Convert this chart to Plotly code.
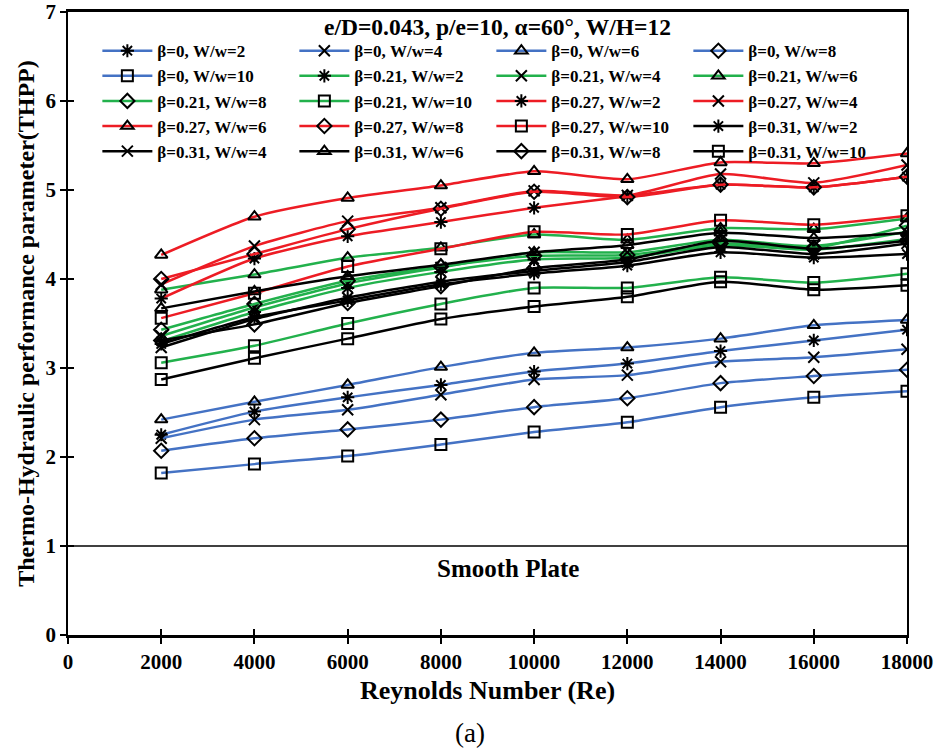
import plotly.graph_objects as go

# Reynolds numbers tested
reynolds = [2000, 4000, 6000, 8000, 10000, 12000, 14000, 16000, 18000]

# Blockage ratio values and their line colours
betas = ["0", "0.21", "0.27", "0.31"]
beta_colors = ["#4472C4", "#22B14C", "#ED1C24", "#000000"]

# Relative width ratios and their marker symbols
width_ratios = [2, 4, 6, 8, 10]
ratio_symbols = ["asterisk-open", "x-thin-open", "triangle-up-open", "diamond-open", "square-open"]

# THPP values, beta = 0
thpp_b0_w2 = [2.25, 2.51, 2.67, 2.81, 2.96, 3.05, 3.19, 3.31, 3.43]
thpp_b0_w4 = [2.21, 2.42, 2.53, 2.70, 2.87, 2.92, 3.07, 3.12, 3.21]
thpp_b0_w6 = [2.42, 2.62, 2.81, 3.01, 3.17, 3.23, 3.33, 3.48, 3.54]
thpp_b0_w8 = [2.07, 2.21, 2.31, 2.42, 2.56, 2.66, 2.83, 2.91, 2.98]
thpp_b0_w10 = [1.82, 1.92, 2.01, 2.14, 2.28, 2.39, 2.56, 2.67, 2.74]

# THPP values, beta = 0.21
thpp_b21_w2 = [3.30, 3.63, 3.90, 4.08, 4.22, 4.24, 4.38, 4.33, 4.45]
thpp_b21_w4 = [3.36, 3.68, 3.95, 4.13, 4.30, 4.30, 4.44, 4.37, 4.53]
thpp_b21_w6 = [3.88, 4.05, 4.24, 4.35, 4.50, 4.44, 4.57, 4.56, 4.68]
thpp_b21_w8 = [3.43, 3.72, 3.98, 4.14, 4.26, 4.27, 4.40, 4.35, 4.60]
thpp_b21_w10 = [3.06, 3.25, 3.50, 3.72, 3.90, 3.90, 4.02, 3.96, 4.06]

# THPP values, beta = 0.27
thpp_b27_w2 = [3.78, 4.23, 4.48, 4.64, 4.80, 4.93, 5.06, 5.03, 5.15]
thpp_b27_w4 = [3.94, 4.37, 4.65, 4.80, 4.99, 4.94, 5.18, 5.08, 5.28]
thpp_b27_w6 = [4.27, 4.70, 4.91, 5.05, 5.21, 5.12, 5.31, 5.30, 5.41]
thpp_b27_w8 = [4.00, 4.28, 4.56, 4.79, 4.98, 4.92, 5.06, 5.03, 5.15]
thpp_b27_w10 = [3.56, 3.84, 4.14, 4.34, 4.53, 4.50, 4.66, 4.61, 4.71]

# THPP values, beta = 0.31
thpp_b31_w2 = [3.27, 3.57, 3.76, 3.94, 4.06, 4.15, 4.30, 4.24, 4.28]
thpp_b31_w4 = [3.23, 3.55, 3.79, 3.97, 4.09, 4.19, 4.36, 4.28, 4.40]
thpp_b31_w6 = [3.67, 3.86, 4.03, 4.16, 4.30, 4.38, 4.52, 4.46, 4.52]
thpp_b31_w8 = [3.31, 3.49, 3.73, 3.92, 4.12, 4.22, 4.43, 4.34, 4.43]
thpp_b31_w10 = [2.87, 3.11, 3.33, 3.55, 3.69, 3.80, 3.97, 3.88, 3.93]

thpp = [
    [thpp_b0_w2, thpp_b0_w4, thpp_b0_w6, thpp_b0_w8, thpp_b0_w10],
    [thpp_b21_w2, thpp_b21_w4, thpp_b21_w6, thpp_b21_w8, thpp_b21_w10],
    [thpp_b27_w2, thpp_b27_w4, thpp_b27_w6, thpp_b27_w8, thpp_b27_w10],
    [thpp_b31_w2, thpp_b31_w4, thpp_b31_w6, thpp_b31_w8, thpp_b31_w10],
]

# Smooth plate reference
smooth_re = [0, 18000]
smooth_thpp = [1, 1]

x_ticks = [0, 2000, 4000, 6000, 8000, 10000, 12000, 14000, 16000, 18000]
y_ticks = [0, 1, 2, 3, 4, 5, 6, 7]

SERIF = "Liberation Serif, Times New Roman, serif"

fig = go.Figure()

fig.add_trace(go.Scatter(
    x=smooth_re, y=smooth_thpp, mode="lines",
    line=dict(color="black", width=1.5), showlegend=False, hoverinfo="skip",
))

for bi, beta in enumerate(betas):
    for wi, wr in enumerate(width_ratios):
        fig.add_trace(go.Scatter(
            x=reynolds, y=thpp[bi][wi],
            mode="lines+markers",
            name=f"<b>β={beta}, W/w={wr}</b>",
            line=dict(color=beta_colors[bi], width=2.5, shape="spline", smoothing=0.6),
            marker=dict(symbol=ratio_symbols[wi], size=11, color="black",
                        line=dict(color="black", width=2)),
        ))

# invisible helper trace so the secondary tick axes are laid out
fig.add_trace(go.Scatter(x=smooth_re, y=smooth_thpp, xaxis="x2", yaxis="y2",
                         mode="none", showlegend=False, hoverinfo="skip"))

axis_font = dict(family=SERIF, size=21, color="black")

fig.update_layout(
    width=936, height=753,
    margin=dict(l=68, r=29, t=12, b=118),
    paper_bgcolor="white", plot_bgcolor="white",
    font=dict(family=SERIF, color="black"),
    xaxis=dict(
        range=[0, 18000], tickvals=x_ticks, ticktext=[f"<b>{v}</b>" for v in x_ticks],
        tickfont=axis_font, ticks="outside", ticklen=6, tickwidth=1.5, tickcolor="black",
        showline=True, linecolor="black", linewidth=2.5, mirror=True,
        showgrid=False, zeroline=False, automargin=False,
        title=dict(text="<b>Reynolds Number (Re)</b>", font=dict(family=SERIF, size=26), standoff=8),
    ),
    yaxis=dict(
        range=[0, 7], tickvals=y_ticks, ticktext=[f"<b>{v}</b>" for v in y_ticks],
        tickfont=axis_font, ticks="outside", ticklen=6, tickwidth=1.5, tickcolor="black",
        showline=True, linecolor="black", linewidth=1.5, mirror=True,
        showgrid=False, zeroline=False, automargin=False,
        title=dict(text="<b>Thermo-Hydraulic performance parameter(THPP)</b>",
                   font=dict(family=SERIF, size=24), standoff=4),
    ),
    xaxis2=dict(overlaying="x", matches="x", anchor="y", side="bottom", automargin=False,
                tickvals=x_ticks, showticklabels=False, ticks="inside", ticklen=6,
                tickwidth=1.5, tickcolor="black", showline=False, showgrid=False, zeroline=False),
    yaxis2=dict(overlaying="y", matches="y", anchor="x", side="left", automargin=False,
                tickvals=y_ticks, showticklabels=False, ticks="inside", ticklen=6,
                tickwidth=1.5, tickcolor="black", showline=False, showgrid=False, zeroline=False),
    legend=dict(
        orientation="h", x=0.035, y=0.966, xanchor="left", yanchor="top",
        entrywidth=132, entrywidthmode="pixels", itemwidth=50,
        font=dict(family=SERIF, size=17, color="black"),
        bgcolor="rgba(0,0,0,0)", tracegroupgap=0,
    ),
    annotations=[
        dict(text="<b>e/D=0.043, p/e=10, α=60°, W/H=12</b>", xref="paper", yref="paper",
             x=0.5125, y=0.976, xanchor="center", yanchor="middle", showarrow=False,
             font=dict(family=SERIF, size=23.5, color="black")),
        dict(text="<b>Smooth Plate</b>", xref="x", yref="y", x=9440, y=0.75,
             showarrow=False, font=dict(family=SERIF, size=25, color="black")),
        dict(text="(a)", xref="paper", yref="paper", x=0.479, y=-0.157,
             xanchor="center", yanchor="middle", showarrow=False,
             font=dict(family=SERIF, size=27, color="black")),
    ],
)

fig.write_html("out.html")
